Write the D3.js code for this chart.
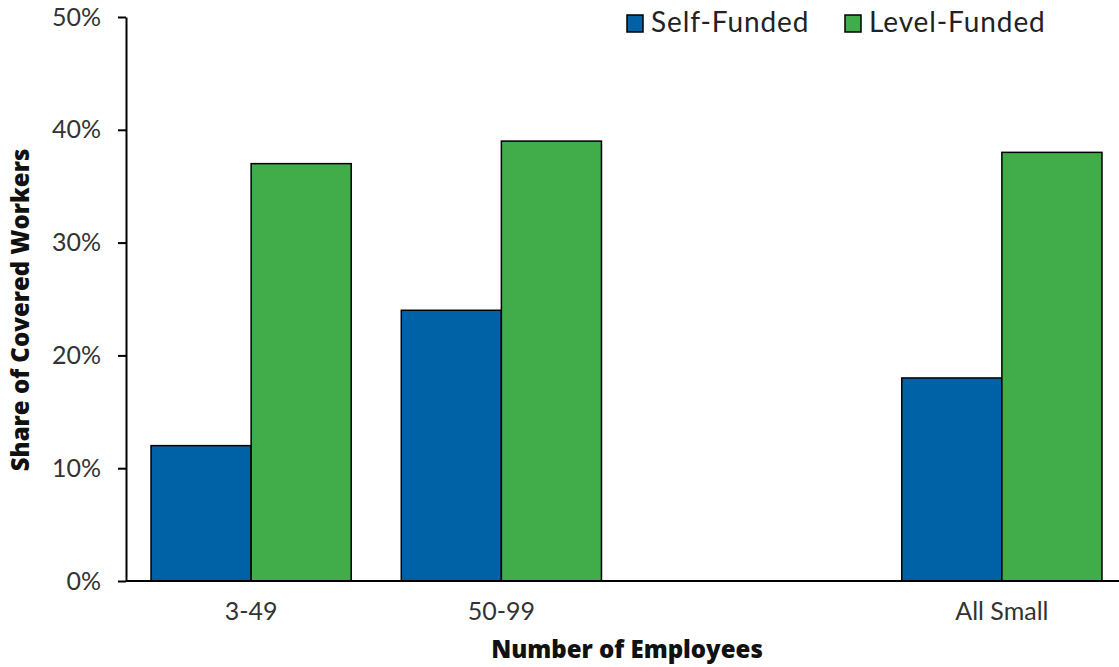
<!DOCTYPE html>
<html>
<head>
<meta charset="utf-8">
<script src="https://cdn.jsdelivr.net/npm/d3@7"></script>
<style>
  html, body { margin: 0; padding: 0; background: #fff; }
  svg { display: block; font-family: Lato, "Open Sans", sans-serif; }
</style>
</head>
<body>
<svg id="chart" width="1119" height="667"></svg>
<script>
// Share of covered workers in self-funded vs level-funded plans, by firm size
const categories = ["3-49", "50-99", "", "All Small"];
const selfFunded = [0.12, 0.24, null, 0.18];
const levelFunded = [0.37, 0.39, null, 0.38];
const seriesNames = ["Self-Funded", "Level-Funded"];
const seriesColors = ["#0062A6", "#41AC4A"];
const yTicks = [0, 0.1, 0.2, 0.3, 0.4, 0.5];

const svg = d3.select("#chart");
const W = 1119, H = 667;
const margin = { top: 17, right: 0, bottom: 86, left: 126 };
const plotW = 1001, plotH = H - margin.top - margin.bottom;

const g = svg.append("g").attr("transform", `translate(${margin.left},${margin.top})`);

const x = d3.scaleBand().domain(d3.range(categories.length)).range([0, plotW]).paddingInner(0).paddingOuter(0);
const y = d3.scaleLinear().domain([0, 0.5]).range([plotH, 0]);
const inner = d3.scaleBand().domain([0, 1]).range([x.bandwidth() * 0.1, x.bandwidth() * 0.9]);

const rows = categories.map((c, i) => ({ i, vals: [selfFunded[i], levelFunded[i]] }));

// bars
rows.forEach(r => {
  r.vals.forEach((v, s) => {
    if (v == null) return;
    g.append("rect")
      .attr("x", x(r.i) + inner(s))
      .attr("y", y(v))
      .attr("width", inner.bandwidth())
      .attr("height", y(0) - y(v))
      .attr("fill", seriesColors[s])
      .attr("stroke", "#000")
      .attr("stroke-width", 1.5);
  });
});

// y axis
const yAxis = g.append("g")
  .call(d3.axisLeft(y).tickValues(yTicks).tickFormat(d3.format(".0%")).tickSize(8).tickSizeOuter(0));
yAxis.select(".domain").attr("stroke", "#000").attr("stroke-width", 2);
yAxis.selectAll(".tick line").attr("stroke", "#000").attr("stroke-width", 2);
yAxis.selectAll(".tick text").attr("font-size", 25).attr("fill", "#333").attr("x", -25)
  .attr("font-family", "Lato, sans-serif");

// x axis
const xAxis = g.append("g").attr("transform", `translate(0,${plotH})`)
  .call(d3.axisBottom(x).tickFormat(i => categories[i]).tickSize(0).tickSizeOuter(0));
xAxis.select(".domain").attr("d", `M0,0H${W - margin.left}`).attr("stroke", "#000").attr("stroke-width", 2);
xAxis.selectAll(".tick text").attr("font-size", 25).attr("fill", "#333").attr("dy", "1.42em")
  .attr("font-family", "Lato, sans-serif");

// axis titles
svg.append("text")
  .attr("x", 627).attr("y", 658)
  .attr("text-anchor", "middle").attr("font-size", 24).attr("font-weight", 800).attr("fill", "#111")
  .attr("font-family", "'Open Sans', sans-serif")
  .text("Number of Employees");
svg.append("text")
  .attr("transform", "translate(29,310) rotate(-90)")
  .attr("text-anchor", "middle").attr("font-size", 24).attr("font-weight", 800).attr("fill", "#111")
  .attr("font-family", "'Open Sans', sans-serif")
  .text("Share of Covered Workers");

// legend
const legend = svg.append("g");
const legendX = [627, 845];
seriesNames.forEach((n, s) => {
  legend.append("rect")
    .attr("x", legendX[s]).attr("y", 15).attr("width", 16).attr("height", 17)
    .attr("fill", seriesColors[s]).attr("stroke", "#000").attr("stroke-width", 1.5);
  legend.append("text")
    .attr("x", legendX[s] + 24).attr("y", 32)
    .attr("font-size", 28).attr("fill", "#222").attr("letter-spacing", 0.9)
    .text(n);
});
</script>
</body>
</html>
